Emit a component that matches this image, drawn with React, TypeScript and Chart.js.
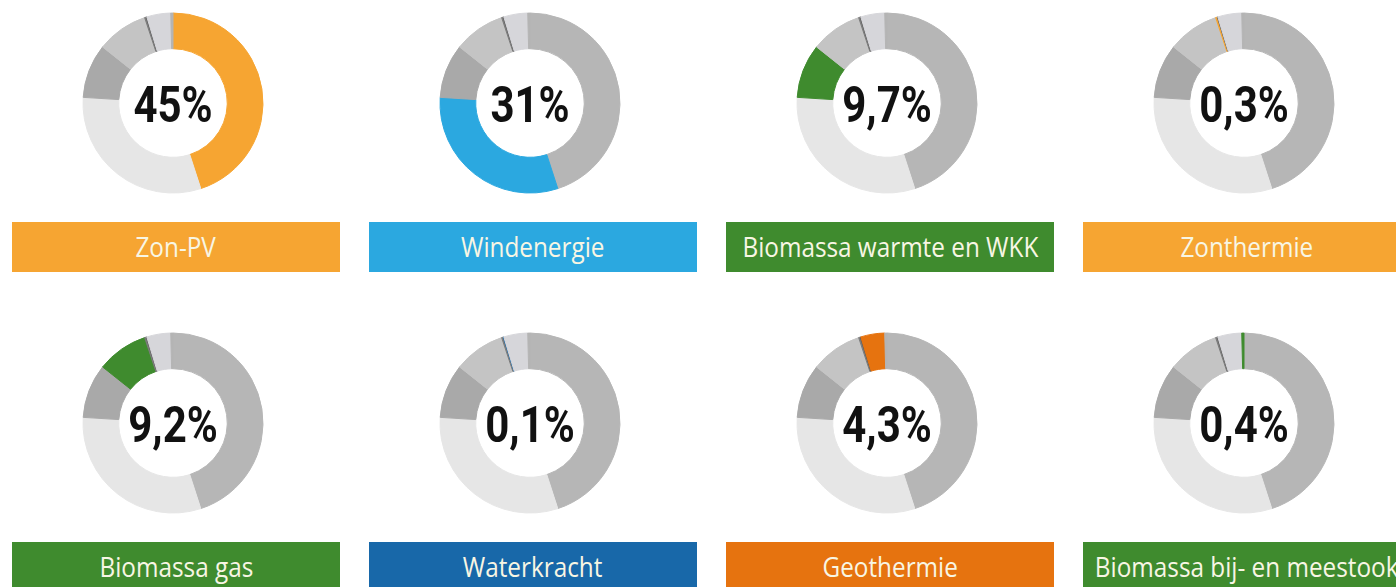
import React, { useEffect, useRef } from "react";
import { Chart, registerables } from "chart.js";

Chart.register(...registerables);

// Energy sources, in the order the ring segments run clockwise from 12 o'clock
const categories = [
  "Zon-PV",
  "Windenergie",
  "Biomassa warmte en WKK",
  "Biomassa gas",
  "Zonthermie",
  "Waterkracht",
  "Geothermie",
  "Biomassa bij- en meestook",
];
// Share of each source (%)
const shares = [45, 31, 9.7, 9.2, 0.3, 0.1, 4.3, 0.4];
// Text shown in the centre of each ring
const shareLabels = ["45%", "31%", "9,7%", "9,2%", "0,3%", "0,1%", "4,3%", "0,4%"];
// Colour of each source when it is the highlighted one
const highlightColors = ["#F6A532", "#2BA8E0", "#3F8B2E", "#3F8B2E", "#F6A532", "#1868A9", "#E6730F", "#3F8B2E"];
// Grey shade of each source when it is not highlighted
const greyColors = ["#b6b6b6", "#e6e6e6", "#a9a9a9", "#c4c4c4", "#7a7a7a", "#5a5a5a", "#d6d6da", "#b4b4b4"];
// Which source each panel shows (row by row, left to right)
const panelOrder = [0, 1, 2, 4, 3, 5, 6, 7];

const COL_LEFT = [12, 369, 726, 1083];
const ROW_TOP = [0, 320];
const BAR_W = 328;
const BAR_H = 50;

function Ring({ idx }: { idx: number }) {
  const ref = useRef<HTMLCanvasElement | null>(null);
  useEffect(() => {
    if (!ref.current) return;
    const colors = categories.map((_, i) => (i === idx ? highlightColors[i] : greyColors[i]));
    const centerText = {
      id: "centerText",
      afterDraw(chart: any) {
        const meta = chart.getDatasetMeta(0);
        const arc = meta.data[0];
        const cx = arc.x;
        const cy = arc.y;
        const ctx = chart.ctx;
        ctx.save();
        ctx.translate(cx, cy + 19);
        ctx.scale(0.84, 1);
        ctx.font = "bold 50px Roboto";
        ctx.fillStyle = "#111111";
        ctx.textAlign = "center";
        ctx.textBaseline = "alphabetic";
        ctx.fillText(shareLabels[idx], 0, 0);
        ctx.restore();
      },
    };
    const chart = new Chart(ref.current, {
      type: "doughnut",
      data: {
        labels: categories,
        datasets: [
          {
            data: shares,
            backgroundColor: colors,
            borderColor: colors,
            borderWidth: 1,
          },
        ],
      },
      options: {
        responsive: false,
        animation: false,
        radius: 90,
        cutout: 60,
        layout: { padding: 0 },
        plugins: { legend: { display: false }, tooltip: { enabled: false } },
      } as any,
      plugins: [centerText],
    });
    return () => chart.destroy();
  }, [idx]);
  return <canvas ref={ref} width={200} height={200} style={{ width: 200, height: 200, display: "block" }} />;
}

export default function App() {
  return (
    <div
      style={{
        position: "absolute",
        left: 0,
        top: 0,
        width: 1396,
        height: 587,
        overflow: "hidden",
        background: "#ffffff",
      }}
    >
      {panelOrder.map((idx, p) => {
        const col = p % 4;
        const row = Math.floor(p / 4);
        const barLeft = COL_LEFT[col];
        const cx = barLeft + BAR_W / 2 - 3;
        const cy = ROW_TOP[row] + 103;
        return (
          <React.Fragment key={p}>
            <div style={{ position: "absolute", left: cx - 100, top: cy - 100, width: 200, height: 200 }}>
              <Ring idx={idx} />
            </div>
            <div
              style={{
                position: "absolute",
                left: barLeft,
                top: ROW_TOP[row] + 222,
                width: BAR_W,
                height: BAR_H,
                background: highlightColors[idx],
                display: "flex",
                alignItems: "center",
                justifyContent: "center",
                overflow: "visible",
                whiteSpace: "nowrap",
              }}
            >
              <span
                style={{
                  fontFamily: "'Open Sans', sans-serif",
                  fontSize: 27,
                  color: "#f8f6e4",
                  display: "inline-block",
                  transform: "scaleX(0.9)",
                  lineHeight: "50px",
                }}
              >
                {categories[idx]}
              </span>
            </div>
          </React.Fragment>
        );
      })}
    </div>
  );
}
